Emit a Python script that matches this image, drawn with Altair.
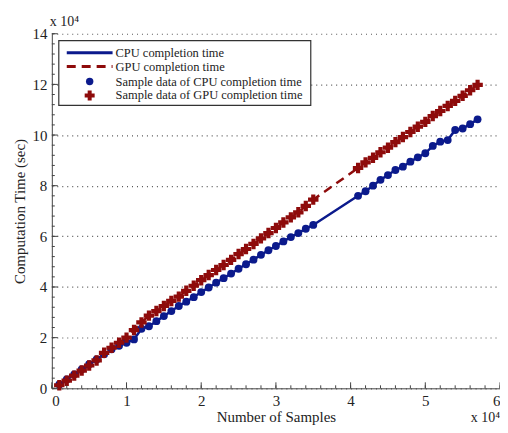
import altair as alt
import pandas as pd

# Number of samples (x 10^4)
cpu_x = [0.1, 0.2, 0.3, 0.4, 0.5, 0.6, 0.7, 0.8, 0.9, 1.0,
         1.1, 1.2, 1.3, 1.4, 1.5, 1.6, 1.7, 1.8, 1.9, 2.0,
         2.1, 2.2, 2.3, 2.4, 2.5, 2.6, 2.7, 2.8, 2.9, 3.0,
         3.1, 3.2, 3.3, 3.4, 3.5,
         4.1, 4.2, 4.3, 4.4, 4.5, 4.6, 4.7, 4.8, 4.9, 5.0,
         5.1, 5.2, 5.3, 5.4, 5.5, 5.6, 5.7]
# CPU completion time (sec, x 10^4)
cpu_y = [0.15, 0.35, 0.55, 0.75, 0.95, 1.14, 1.34, 1.54, 1.68, 1.80,
         1.93, 2.35, 2.45, 2.65, 2.85, 3.05, 3.25, 3.42, 3.60, 3.80,
         3.98, 4.17, 4.35, 4.53, 4.72, 4.90, 5.08, 5.27, 5.45, 5.62,
         5.80, 5.97, 6.13, 6.30, 6.45,
         7.60, 7.78, 8.00, 8.23, 8.42, 8.62, 8.75, 8.95, 9.12, 9.28,
         9.57, 9.74, 9.80, 10.20, 10.26, 10.43, 10.62]
gpu_x = cpu_x
# GPU completion time (sec, x 10^4)
gpu_y = [0.12, 0.30, 0.50, 0.70, 0.90, 1.10, 1.40, 1.60, 1.80, 2.00,
         2.30, 2.60, 2.87, 3.05, 3.25, 3.45, 3.62, 3.85, 4.05, 4.27,
         4.47, 4.67, 4.87, 5.07, 5.30, 5.50, 5.70, 5.92, 6.13, 6.33,
         6.55, 6.75, 6.95, 7.20, 7.45,
         8.70, 8.92, 9.10, 9.32, 9.50, 9.72, 9.92, 10.12, 10.33, 10.52,
         10.75, 10.95, 11.15, 11.35, 11.55, 11.77, 11.98]

x_major = [0, 1, 2, 3, 4, 5, 6]
x_minor = [round(i * 0.2, 1) for i in range(31)]
y_major = [0, 2, 4, 6, 8, 10, 12, 14]
y_minor = [round(i * 0.4, 1) for i in range(36)]

legend_labels = ["CPU completion time", "GPU completion time",
                 "Sample data of CPU completion time",
                 "Sample data of GPU completion time"]

BLUE = "#0b1a8c"
RED = "#8e0b0b"
FONT = "Liberation Serif"
W, H = 450, 356

cpu = pd.DataFrame({"x": cpu_x, "y": cpu_y})
gpu = pd.DataFrame({"x": gpu_x, "y": gpu_y})

xs = alt.Scale(domain=[0, 6], nice=False, zero=False)
ys = alt.Scale(domain=[0, 14], nice=False, zero=False)

X = alt.X("x:Q", scale=xs, title="Number of Samples",
          axis=alt.Axis(values=x_major, grid=False, ticks=False, labelPadding=5,
                        titlePadding=1, domainColor="#444"))
Y = alt.Y("y:Q", scale=ys, title="Computation Time (sec)",
          axis=alt.Axis(values=y_major, grid=True, ticks=False, labelPadding=5,
                        titlePadding=4, gridDash=[1, 4], gridColor="#555",
                        gridWidth=1.2, domainColor="#444"))

cpu_line = alt.Chart(cpu).mark_line(color=BLUE, strokeWidth=2.5).encode(x=X, y=Y)
gpu_line = alt.Chart(gpu).mark_line(color=RED, strokeWidth=2.5,
                                    strokeDash=[9, 6]).encode(x=X, y=Y)
cpu_pts = alt.Chart(cpu).mark_point(shape="circle", filled=True, color=BLUE,
                                    size=62, opacity=1).encode(x=X, y=Y)
gpu_pts = alt.Chart(gpu).mark_point(shape="cross", filled=True, color=RED,
                                    size=110, opacity=1).encode(x=X, y=Y)

def xtick(vals, length):
    return alt.Chart(pd.DataFrame({"x": vals})).mark_rule(
        color="#444", strokeWidth=1).encode(
        x=X, y=alt.value(H), y2=alt.value(H - length))

def ytick(vals, length):
    return alt.Chart(pd.DataFrame({"y": vals})).mark_rule(
        color="#444", strokeWidth=1).encode(
        y=Y, x=alt.value(0), x2=alt.value(length))

# legend
leg_box = alt.Chart(pd.DataFrame({"a": [0]})).mark_rect(
    fill="white", stroke="#333", strokeWidth=1.2).encode(
    x=alt.value(7), x2=alt.value(260), y=alt.value(7), y2=alt.value(72))
rows = [19, 33, 48, 62]
leg_l1 = alt.Chart(pd.DataFrame({"a": [0]})).mark_rule(
    color=BLUE, strokeWidth=3).encode(
    x=alt.value(15), x2=alt.value(61), y=alt.value(rows[0]))
leg_l2 = alt.Chart(pd.DataFrame({"a": [0]})).mark_rule(
    color=RED, strokeWidth=3, strokeDash=[9, 6]).encode(
    x=alt.value(15), x2=alt.value(61), y=alt.value(rows[1]))
leg_p1 = alt.Chart(pd.DataFrame({"a": [0]})).mark_point(
    shape="circle", filled=True, color=BLUE, size=55, opacity=1).encode(
    x=alt.value(38), y=alt.value(rows[2]))
leg_p2 = alt.Chart(pd.DataFrame({"a": [0]})).mark_point(
    shape="cross", filled=True, color=RED, size=100, opacity=1).encode(
    x=alt.value(38), y=alt.value(rows[3]))
leg_txt = alt.Chart(pd.DataFrame({"label": legend_labels, "py": rows})).mark_text(
    align="left", baseline="middle", font=FONT, fontSize=12.5, color="#222").encode(
    x=alt.value(64), y=alt.Y("py:Q", scale=None), text="label:N")

exp_top = alt.Chart(pd.DataFrame({"a": [0]})).mark_text(
    text="x 10⁴", align="left", baseline="alphabetic", font=FONT, fontSize=14,
    color="#222").encode(x=alt.value(-2), y=alt.value(-8))
exp_bot = alt.Chart(pd.DataFrame({"a": [0]})).mark_text(
    text="x 10⁴", align="right", baseline="alphabetic", font=FONT, fontSize=14,
    color="#222").encode(x=alt.value(W), y=alt.value(H + 34))

chart = alt.layer(
    cpu_line, gpu_line, cpu_pts, gpu_pts,
    xtick(x_minor, 3), xtick(x_major, 6), ytick(y_minor, 3), ytick(y_major, 6),
    leg_box, leg_l1, leg_l2, leg_p1, leg_p2, leg_txt, exp_top, exp_bot,
).properties(
    width=W, height=H,
    autosize=alt.AutoSizeParams(type="none"),
    padding={"left": 44, "top": 25, "right": 0, "bottom": 36},
).configure_view(stroke=None).configure_axis(
    labelFont=FONT, titleFont=FONT, labelFontSize=15, titleFontSize=15,
    labelColor="#222", titleColor="#222", titleFontWeight="normal",
)

chart.save("out.html", embed_options={"renderer": "svg", "actions": False})
